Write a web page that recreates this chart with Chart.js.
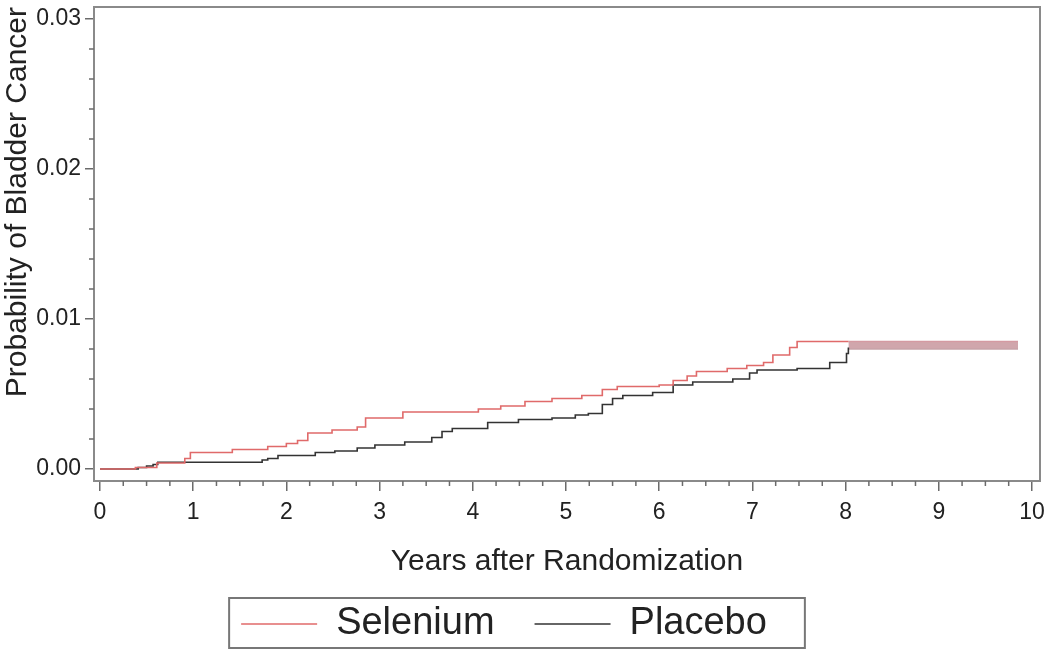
<!DOCTYPE html>
<html lang="en">
<head>
<meta charset="UTF-8">
<title>Probability of Bladder Cancer</title>
<script src="https://cdn.jsdelivr.net/npm/chart.js"></script>
<style>
  body { margin: 0; background: #fff; }
  .wrap { width: 1050px; height: 650px; }
</style>
</head>
<body>
<div class="wrap"><canvas id="kmChart"></canvas></div>
<script>
// Step curves: year of each step and the cumulative probability after it
const seleniumYears = [0, 0.38, 0.61, 0.91, 0.97, 1.42, 1.80, 2.00, 2.12, 2.23, 2.49, 2.76, 2.85, 3.25, 4.06, 4.30, 4.56, 4.85, 5.17, 5.39, 5.55, 6.00, 6.15, 6.30, 6.40, 6.73, 6.94, 7.12, 7.22, 7.40, 7.48, 8.03];
const seleniumProb  = [0, 0.0001, 0.0004, 0.0007, 0.0011, 0.0013, 0.0015, 0.0017, 0.0019, 0.0024, 0.0026, 0.0028, 0.0034, 0.0038, 0.0040, 0.0042, 0.0045, 0.0047, 0.0049, 0.0053, 0.0055, 0.0056, 0.0059, 0.0062, 0.0065, 0.0067, 0.0069, 0.0071, 0.0076, 0.0081, 0.0085, 0.0085];

const placeboYears = [0, 0.41, 0.50, 0.57, 0.62, 1.74, 1.80, 1.91, 2.31, 2.52, 2.76, 2.95, 3.27, 3.56, 3.67, 3.78, 4.16, 4.49, 4.85, 5.10, 5.24, 5.39, 5.50, 5.61, 5.93, 6.15, 6.36, 6.79, 6.97, 7.05, 7.48, 7.83, 8.01, 8.03];
const placeboProb  = [0, 0.0001, 0.0002, 0.0003, 0.00045, 0.0006, 0.0007, 0.0009, 0.0011, 0.0012, 0.0014, 0.0016, 0.0018, 0.0021, 0.0025, 0.0027, 0.0031, 0.0033, 0.0034, 0.0036, 0.0037, 0.0043, 0.0047, 0.0049, 0.0051, 0.0056, 0.0058, 0.0060, 0.0064, 0.0066, 0.0067, 0.0071, 0.0077, 0.0081];

// flat tail after year 8 where both curves run together
const tailYears = [8.03, 9.85];
const tailHigh  = [0.0085, 0.0085];
const tailLow   = [0.0080, 0.0080];

const yTickLabels = ['0.00', '0.01', '0.02', '0.03'];
const xTickLabels = ['0', '1', '2', '3', '4', '5', '6', '7', '8', '9', '10'];

const FONT = "'Liberation Sans', Arial, sans-serif";
const AXIS = '#6b6b6b';

const toXY = (xs, ys) => xs.map((x, i) => ({ x: x, y: ys[i] }));
const isWhole = (v, step) => Math.abs(v / step - Math.round(v / step)) < 1e-6;

// frame, minor ticks and a box round the legend
const extras = {
    id: 'extras',
    afterLayout(chart) {
        // legend sits a little left of centre in the original
        chart.legend.left -= 16;
        chart.legend.right -= 16;
    },
    afterDraw(chart) {
        const ctx = chart.ctx;
        const a = chart.chartArea;
        ctx.save();
        ctx.strokeStyle = '#8a8a8a';
        ctx.lineWidth = 2;
        ctx.strokeRect(a.left, a.top, a.right - a.left, a.bottom - a.top);

        ctx.strokeStyle = AXIS;
        ctx.lineWidth = 1.5;
        const ys = chart.scales.y;
        ys.ticks.forEach(t => {
            if (isWhole(t.value, 0.01)) return;
            const py = ys.getPixelForValue(t.value);
            ctx.beginPath();
            ctx.moveTo(a.left - 5, py);
            ctx.lineTo(a.left, py);
            ctx.stroke();
        });
        const xs = chart.scales.x;
        xs.ticks.forEach(t => {
            if (isWhole(t.value, 1)) return;
            const px = xs.getPixelForValue(t.value);
            ctx.beginPath();
            ctx.moveTo(px, a.bottom);
            ctx.lineTo(px, a.bottom + 5);
            ctx.stroke();
        });

        const boxes = chart.legend.legendHitBoxes;
        if (boxes && boxes.length) {
            const left = Math.min(...boxes.map(b => b.left)) - 12;
            const right = Math.max(...boxes.map(b => b.left + b.width)) + 38;
            const top = boxes[0].top - 7;
            const bottom = boxes[0].top + boxes[0].height + 5;
            ctx.strokeStyle = '#777';
            ctx.lineWidth = 2;
            ctx.strokeRect(left, top, right - left, bottom - top);
        }
        ctx.restore();
    }
};

new Chart(document.getElementById('kmChart'), {
    type: 'line',
    data: {
        datasets: [
            {
                label: 'Selenium',
                data: toXY(seleniumYears, seleniumProb),
                stepped: 'before',
                borderColor: '#e06a6a',
                borderWidth: 1.6,
                pointRadius: 0,
                fill: false
            },
            {
                label: 'Placebo',
                data: toXY(placeboYears, placeboProb),
                stepped: 'before',
                borderColor: '#333333',
                borderWidth: 1.6,
                pointRadius: 0,
                fill: false
            },
            {
                label: 'tailHigh',
                data: toXY(tailYears, tailHigh),
                borderColor: '#d49aa2',
                borderWidth: 1.5,
                pointRadius: 0,
                fill: false
            },
            {
                label: 'tailLow',
                data: toXY(tailYears, tailLow),
                borderColor: '#c7a3a8',
                borderWidth: 1.5,
                pointRadius: 0,
                backgroundColor: 'rgba(200, 150, 158, 0.85)',
                fill: '-1'
            }
        ]
    },
    options: {
        responsive: true,
        maintainAspectRatio: false,
        animation: false,
        layout: { padding: { top: 7, right: 10, left: 0, bottom: -3 } },
        plugins: {
            tooltip: { enabled: false },
            legend: {
                position: 'bottom',
                labels: {
                    filter: item => item.datasetIndex < 2,
                    usePointStyle: true,
                    pointStyle: 'line',
                    pointStyleWidth: 76,
                    color: '#222',
                    padding: 40,
                    font: { family: FONT, size: 38 }
                }
            }
        },
        scales: {
            x: {
                type: 'linear',
                min: -0.064,
                max: 10.086,
                afterFit: s => { s.height = 84; s.paddingRight = 0; },
                border: { color: AXIS, width: 2 },
                grid: { drawOnChartArea: false, color: AXIS, lineWidth: 1.5, tickLength: 10,
                        tickColor: ctx => isWhole(ctx.tick.value, 1) ? AXIS : 'rgba(0,0,0,0)' },
                ticks: {
                    stepSize: 0.25,
                    includeBounds: false,
                    autoSkip: false,
                    maxRotation: 0,
                    color: '#222',
                    padding: 8,
                    font: { family: FONT, size: 23 },
                    callback: v => isWhole(v, 1) ? xTickLabels[Math.round(v)] : ''
                },
                title: {
                    display: true,
                    text: 'Years after Randomization',
                    color: '#222',
                    font: { family: FONT, size: 30 },
                    padding: { top: 14, bottom: -15 }
                }
            },
            y: {
                type: 'linear',
                min: -0.0008,
                max: 0.0308,
                afterFit: s => { s.width = 94; s.paddingTop = 0; },
                border: { color: AXIS, width: 2 },
                grid: { drawOnChartArea: false, color: AXIS, lineWidth: 1.5, tickLength: 9,
                        tickColor: ctx => isWhole(ctx.tick.value, 0.01) ? AXIS : 'rgba(0,0,0,0)' },
                ticks: {
                    stepSize: 0.002,
                    includeBounds: false,
                    autoSkip: false,
                    color: '#222',
                    padding: 4,
                    font: { family: FONT, size: 23 },
                    callback: v => isWhole(v, 0.01) ? yTickLabels[Math.round(v * 100)] : ''
                },
                title: {
                    display: true,
                    text: 'Probability of Bladder Cancer',
                    align: 'end',
                    color: '#222',
                    font: { family: FONT, size: 30 },
                    padding: { top: 0, bottom: 2 }
                }
            }
        }
    },
    plugins: [extras]
});
</script>
</body>
</html>
